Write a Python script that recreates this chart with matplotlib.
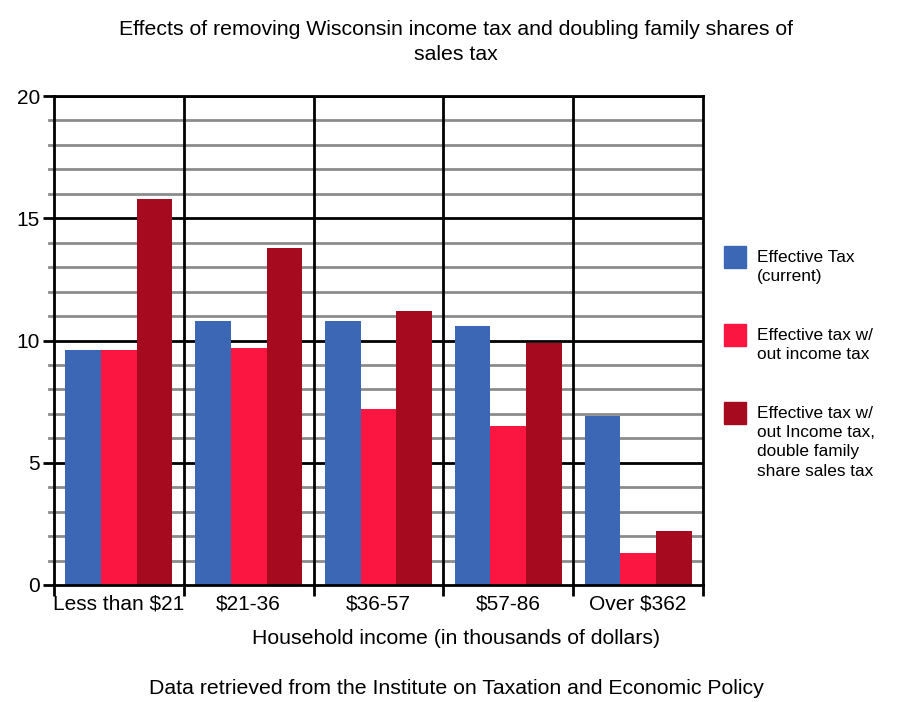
import matplotlib.pyplot as plt
import numpy as np
from matplotlib.patches import Rectangle

plt.rcParams['font.family'] = ['Liberation Sans', 'DejaVu Sans']

categories = ['Less than $21', '$21-36', '$36-57', '$57-86', 'Over $362']
series_names = ['Effective Tax\n(current)',
                'Effective tax w/\nout income tax',
                'Effective tax w/\nout Income tax,\ndouble family\nshare sales tax']
current_tax = [9.6, 10.8, 10.8, 10.6, 6.9]
no_income_tax = [9.6, 9.7, 7.2, 6.5, 1.3]
no_income_double_sales = [15.8, 13.8, 11.2, 9.9, 2.2]
colors = ['#3c67b5', '#fa1640', '#a60a1e']

W, H = 902, 702
fig = plt.figure(figsize=(W / 100, H / 100), dpi=100)
ax = fig.add_axes([54 / W, 1 - 585 / H, 649 / W, 489 / H])

x = np.arange(len(categories))
w = 0.275
for i, vals in enumerate([current_tax, no_income_tax, no_income_double_sales]):
    ax.bar(x + (i - 1) * w, vals, width=w, color=colors[i], zorder=3)

ax.set_xlim(-0.5, len(categories) - 0.5)
ax.set_ylim(0, 20)

# horizontal grid: grey minor every 1, black major every 5
for v in range(1, 20):
    if v % 5:
        ax.axhline(v, color='#8c8c8c', lw=2, zorder=1)
        ax.plot([-0.54, -0.5], [v, v], color='#8c8c8c', lw=2, clip_on=False, zorder=1)
for v in range(5, 21, 5):
    ax.axhline(v, color='black', lw=2, zorder=2)
# category separators
for b in np.arange(0.5, len(categories) - 0.5):
    ax.axvline(b, color='black', lw=2, zorder=2)

ax.set_yticks([0, 5, 10, 15, 20])
ax.tick_params(axis='y', length=8, width=2, labelsize=15, pad=2)
ax.set_xticks(x)
ax.set_xticklabels(categories, fontsize=15)
ax.tick_params(axis='x', length=0, pad=7)
ax.set_xticks(np.arange(-0.5, len(categories)), minor=True)
ax.tick_params(axis='x', which='minor', length=8, width=2)

for side in ['top', 'left', 'right', 'bottom']:
    ax.spines[side].set_linewidth(2)
    ax.spines[side].set_zorder(4)

fig.text(456 / W, 1 - 638 / H, 'Household income (in thousands of dollars)',
         ha='center', va='center', fontsize=15.3)
fig.text(456 / W, 1 - 42 / H, 'Effects of removing Wisconsin income tax and doubling family shares of\nsales tax',
         ha='center', va='center', fontsize=15.3, linespacing=1.4)
fig.text(456 / W, 1 - 688 / H, 'Data retrieved from the Institute on Taxation and Economic Policy',
         ha='center', va='center', fontsize=15.3)

# legend on the right, squares with text beside them
for name, col, top in zip(series_names, colors, [246, 324, 402]):
    fig.patches.append(Rectangle((724 / W, 1 - (top + 22) / H), 22 / W, 22 / H,
                                 transform=fig.transFigure, color=col))
    fig.text(757 / W, 1 - (top + 4) / H, name, ha='left', va='top', fontsize=12.4, linespacing=1.35)

fig.savefig('out.png', dpi=100, facecolor='white')
